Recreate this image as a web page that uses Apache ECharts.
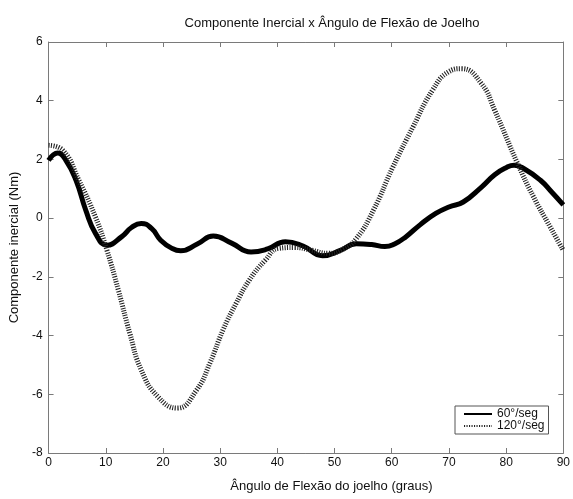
<!DOCTYPE html>
<html>
<head>
<meta charset="utf-8">
<script src="https://cdn.jsdelivr.net/npm/echarts@6/dist/echarts.min.js"></script>
<style>html,body{margin:0;padding:0;background:#fff;}#c{width:573px;height:499px;}</style>
</head>
<body>
<div id="c"></div>
<script>
// Data
const seriesNames = ['60°/seg', '120°/seg'];
const x60 = [0, 1.6, 3, 4.8, 6.5, 8.2, 10.2, 12.8, 14.5, 16.2, 18, 19.6, 21.5, 23.1, 26, 28.8, 32, 35.4, 38.3, 41.4, 44.5, 47.9, 51, 53.8, 56.5, 58.8, 60.5, 62.5, 65, 67.7, 70, 72.5, 75.7, 78, 80, 81.4, 83, 86, 88, 90];
const y60 = [1.97, 2.22, 1.98, 1.29, 0.27, -0.52, -0.92, -0.63, -0.32, -0.18, -0.35, -0.75, -1.02, -1.11, -0.88, -0.61, -0.85, -1.15, -1.05, -0.8, -0.95, -1.28, -1.1, -0.87, -0.9, -0.97, -0.88, -0.63, -0.22, 0.16, 0.38, 0.55, 1.06, 1.48, 1.72, 1.8, 1.7, 1.29, 0.88, 0.45];
const x120 = [0, 2.5, 5.3, 8.2, 10.2, 12.2, 14.2, 16.2, 19.1, 22.5, 25.9, 28.2, 30.5, 32.8, 35.1, 37.9, 40.2, 43, 45.9, 49, 51.5, 53.8, 56.8, 60.2, 63.7, 67.1, 69.9, 72.2, 75.7, 78, 82, 84.8, 87.7, 90];
const y120 = [2.48, 2.31, 1.29, 0.04, -1.09, -2.45, -3.92, -5.17, -6.08, -6.47, -5.85, -4.94, -3.81, -2.9, -2.11, -1.43, -1.03, -1.0, -1.09, -1.2, -1.05, -0.7, 0.27, 1.74, 3.1, 4.35, 4.98, 5.09, 4.58, 3.67, 1.86, 0.72, -0.3, -1.1];
const xTicks = [0, 10, 20, 30, 40, 50, 60, 70, 80, 90];
const yTicks = [-8, -6, -4, -2, 0, 2, 4, 6];
const titleText = 'Componente Inercial x Ângulo de Flexão de Joelho';
const xName = 'Ângulo de Flexão do joelho (graus)';
const yName = 'Componente inercial (Nm)';

const pairs = (xs, ys) => xs.map((x, i) => [x, ys[i]]);
const font = "'Liberation Sans', Arial, sans-serif";
const axisColor = '#7a7a7a';

const chart = echarts.init(document.getElementById('c'), null, {renderer: 'canvas'});
const baseAxis = () => ({
  axisLine: {show: true, onZero: false, lineStyle: {color: axisColor, width: 1}},
  axisTick: {show: true, inside: true, length: 5, lineStyle: {color: axisColor}},
  splitLine: {show: false}
});
chart.setOption({
  animation: false,
  backgroundColor: '#fff',
  textStyle: {fontFamily: font},
  title: {
    text: titleText, left: 327, top: 12, textAlign: 'center',
    textStyle: {fontSize: 13, fontWeight: 'normal', color: '#111', fontFamily: font}
  },
  grid: {left: 45, right: 3, top: 42, bottom: 46, containLabel: false},
  legend: {
    data: seriesNames, orient: 'vertical', left: 455, top: 406,
    backgroundColor: '#fff', borderColor: '#555', borderWidth: 1,
    padding: [2, 4, 2, 8], itemGap: 0, itemWidth: 28, itemHeight: 12,
    itemStyle: {opacity: 0},
    textStyle: {fontSize: 12, color: '#111', fontFamily: font}
  },
  xAxis: [
    Object.assign(baseAxis(), {
      type: 'value', min: 0, max: 90, interval: 10, position: 'bottom',
      axisLabel: {fontSize: 12, color: '#111', margin: 4, fontFamily: font,
        formatter: v => xTicks.includes(v) ? String(v) : ''},
      name: xName, nameLocation: 'middle', nameGap: 27,
      nameTextStyle: {fontSize: 13, color: '#111', fontFamily: font, padding: [0, 0, 0, 51]}
    }),
    Object.assign(baseAxis(), {
      type: 'value', min: 0, max: 90, interval: 10, position: 'top',
      axisLabel: {show: false}
    })
  ],
  yAxis: [
    Object.assign(baseAxis(), {
      type: 'value', min: -8, max: 6, interval: 2, position: 'left',
      axisLabel: {fontSize: 12, color: '#111', margin: 6, fontFamily: font,
        formatter: v => yTicks.includes(v) ? String(v) : ''},
      name: yName, nameLocation: 'middle', nameGap: 20, nameRotate: 90,
      nameTextStyle: {fontSize: 13, color: '#111', fontFamily: font}
    }),
    Object.assign(baseAxis(), {
      type: 'value', min: -8, max: 6, interval: 2, position: 'right',
      axisLabel: {show: false}
    })
  ],
  series: [
    {
      name: seriesNames[0], type: 'line', data: pairs(x60, y60), smooth: 0.5,
      showSymbol: false, symbol: 'none',
      lineStyle: {color: '#000', width: 5}, itemStyle: {color: '#000'}
    },
    {
      name: seriesNames[1], type: 'line', data: pairs(x120, y120), smooth: 0.5,
      showSymbol: false, symbol: 'none',
      lineStyle: {color: '#222', width: 5, type: [1.1, 1.4]}, itemStyle: {color: '#444'}
    }
  ]
});
</script>
</body>
</html>
